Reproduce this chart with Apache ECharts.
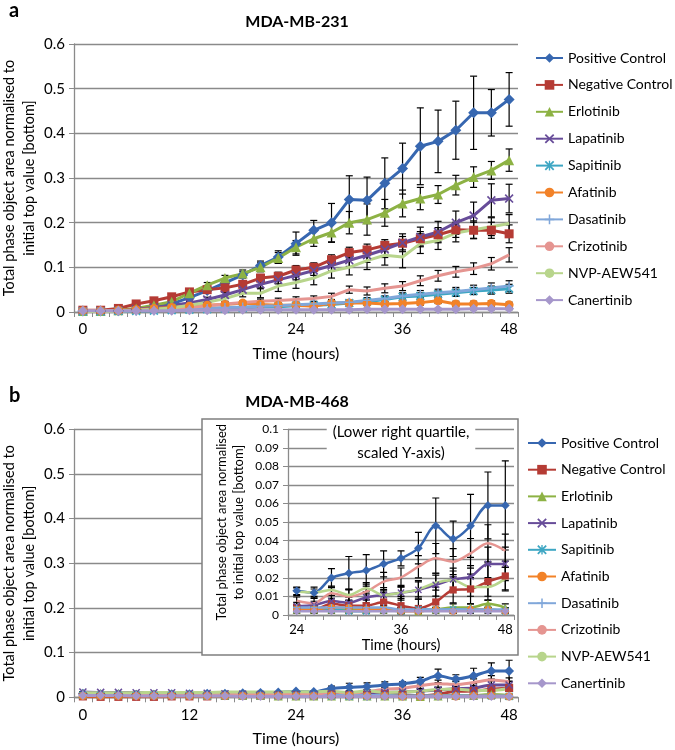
<!DOCTYPE html>
<html><head><meta charset="utf-8">
<script src="https://cdn.jsdelivr.net/npm/echarts@6/dist/echarts.min.js"></script>
<style>html,body{margin:0;padding:0;background:#fff}#c{width:675px;height:750px}</style>
</head><body><div id="c"></div>
<script>
// ---------- categories / tick labels ----------
const hours = ['0','2','4','6','8','10','12','14','16','18','20','22','24','26','28','30','32','34','36','38','40','42','44','46','48'];
const insetHours = ['24','26','28','30','32','34','36','38','40','42','44','46','48'];
const seriesNames = ['Positive Control','Negative Control','Erlotinib','Lapatinib','Sapitinib','Afatinib','Dasatinib','Crizotinib','NVP-AEW541','Canertinib'];

// ---------- panel a : MDA-MB-231 ----------
const topPositive   = [0.002,0.002,0.003,0.005,0.009,0.018,0.032,0.048,0.065,0.083,0.104,0.123,0.153,0.183,0.2,0.252,0.25,0.288,0.321,0.371,0.382,0.407,0.446,0.446,0.476];
const topNegative   = [0.004,0.004,0.008,0.018,0.025,0.034,0.045,0.05,0.054,0.062,0.076,0.08,0.094,0.1,0.117,0.133,0.139,0.149,0.154,0.164,0.173,0.184,0.183,0.183,0.175];
const topErlotinib  = [0.002,0.002,0.004,0.008,0.015,0.023,0.042,0.06,0.076,0.086,0.1,0.121,0.145,0.164,0.178,0.2,0.207,0.222,0.243,0.254,0.263,0.284,0.302,0.317,0.34];
const topLapatinib  = [0.002,0.002,0.003,0.006,0.01,0.015,0.02,0.028,0.038,0.05,0.062,0.072,0.082,0.093,0.104,0.116,0.127,0.14,0.155,0.168,0.179,0.2,0.216,0.25,0.254];
const topSapitinib  = [0.001,0.001,0.002,0.002,0.003,0.004,0.005,0.006,0.008,0.009,0.011,0.012,0.014,0.015,0.017,0.02,0.023,0.028,0.034,0.036,0.04,0.043,0.047,0.049,0.052];
const topAfatinib   = [0.003,0.003,0.004,0.005,0.008,0.01,0.013,0.015,0.017,0.02,0.017,0.015,0.015,0.013,0.02,0.02,0.02,0.018,0.019,0.021,0.025,0.018,0.018,0.019,0.016];
const topDasatinib  = [0.001,0.001,0.002,0.003,0.004,0.005,0.006,0.008,0.01,0.011,0.013,0.014,0.016,0.018,0.02,0.022,0.026,0.03,0.036,0.04,0.043,0.046,0.05,0.054,0.058];
const topCrizotinib = [0.002,0.002,0.003,0.004,0.005,0.007,0.01,0.014,0.018,0.021,0.024,0.026,0.028,0.03,0.035,0.05,0.047,0.053,0.058,0.07,0.081,0.09,0.097,0.108,0.128];
const topNvp        = [0.001,0.001,0.002,0.004,0.006,0.009,0.015,0.022,0.03,0.042,0.042,0.058,0.066,0.076,0.092,0.1,0.115,0.127,0.123,0.153,0.16,0.177,0.184,0.191,0.198];
const topCanertinib = [0.003,0.003,0.003,0.003,0.003,0.003,0.004,0.004,0.004,0.005,0.005,0.005,0.005,0.005,0.005,0.005,0.006,0.006,0.006,0.006,0.006,0.006,0.007,0.007,0.007];

const topPositiveErr   = [0.001,0.001,0.001,0.002,0.002,0.003,0.004,0.005,0.006,0.007,0.01,0.014,0.026,0.022,0.043,0.053,0.052,0.057,0.057,0.086,0.07,0.065,0.082,0.052,0.06];
const topNegativeErr   = [0.001,0.001,0.002,0.003,0.003,0.004,0.005,0.005,0.006,0.007,0.008,0.009,0.01,0.01,0.011,0.012,0.013,0.013,0.015,0.016,0.016,0.017,0.018,0.018,0.02];
const topErlotinibErr  = [0.001,0.001,0.001,0.002,0.003,0.004,0.005,0.006,0.006,0.008,0.01,0.012,0.015,0.017,0.022,0.025,0.035,0.03,0.03,0.025,0.02,0.022,0.023,0.02,0.025];
const topLapatinibErr  = [0.001,0.001,0.001,0.002,0.002,0.003,0.004,0.005,0.006,0.007,0.008,0.009,0.01,0.011,0.012,0.014,0.016,0.018,0.02,0.022,0.024,0.026,0.03,0.037,0.032];
const topSapitinibErr  = [0.001,0.001,0.001,0.001,0.001,0.002,0.002,0.002,0.002,0.003,0.003,0.003,0.004,0.004,0.004,0.005,0.005,0.006,0.006,0.007,0.007,0.008,0.008,0.009,0.01];
const topAfatinibErr   = [0.001,0.001,0.001,0.001,0.002,0.002,0.002,0.003,0.003,0.003,0.003,0.004,0.004,0.004,0.005,0.005,0.005,0.005,0.005,0.006,0.006,0.006,0.006,0.006,0.006];
const topDasatinibErr  = [0.001,0.001,0.001,0.001,0.002,0.002,0.002,0.002,0.003,0.003,0.003,0.004,0.004,0.004,0.005,0.005,0.006,0.006,0.007,0.008,0.008,0.009,0.01,0.011,0.012];
const topCrizotinibErr = [0.001,0.001,0.001,0.002,0.002,0.002,0.003,0.003,0.004,0.004,0.005,0.005,0.006,0.006,0.007,0.008,0.009,0.01,0.01,0.011,0.012,0.012,0.013,0.014,0.016];
const topNvpErr        = [0.001,0.001,0.001,0.002,0.002,0.003,0.004,0.005,0.006,0.008,0.01,0.012,0.013,0.015,0.016,0.017,0.02,0.022,0.024,0.022,0.02,0.02,0.02,0.02,0.02];
const topCanertinibErr = [0.001,0.001,0.001,0.001,0.001,0.001,0.001,0.001,0.001,0.002,0.002,0.002,0.002,0.002,0.002,0.002,0.002,0.002,0.002,0.002,0.002,0.002,0.002,0.002,0.002];

// ---------- panel b : MDA-MB-468 ----------
const botPositive   = [0.008,0.007,0.007,0.006,0.006,0.007,0.007,0.008,0.008,0.009,0.01,0.011,0.013,0.012,0.02,0.0225,0.024,0.0275,0.0305,0.036,0.048,0.041,0.048,0.059,0.059];
const botNegative   = [0.002,0.001,0.001,0.001,0.001,0.002,0.002,0.002,0.003,0.003,0.003,0.004,0.004,0.003,0.006,0.005,0.005,0.007,0.005,0.0035,0.007,0.0135,0.014,0.018,0.021];
const botErlotinib  = [0.008,0.008,0.008,0.007,0.007,0.006,0.006,0.005,0.005,0.004,0.004,0.003,0.003,0.003,0.003,0.003,0.003,0.003,0.003,0.002,0.003,0.004,0.004,0.006,0.004];
const botLapatinib  = [0.012,0.011,0.011,0.01,0.01,0.01,0.009,0.009,0.008,0.007,0.006,0.005,0.0048,0.0054,0.0075,0.0066,0.0095,0.0108,0.012,0.0135,0.0162,0.0192,0.0206,0.0275,0.0275];
const botSapitinib  = [0.004,0.004,0.004,0.004,0.004,0.004,0.004,0.003,0.003,0.003,0.003,0.003,0.003,0.003,0.003,0.002,0.002,0.003,0.002,0.003,0.003,0.003,0.003,0.003,0.002];
const botAfatinib   = [0.003,0.003,0.003,0.003,0.003,0.003,0.003,0.003,0.003,0.003,0.003,0.003,0.003,0.003,0.004,0.004,0.003,0.003,0.002,0.002,0.003,0.002,0.003,0.003,0.002];
const botDasatinib  = [0.006,0.006,0.006,0.005,0.005,0.005,0.005,0.005,0.005,0.004,0.004,0.004,0.004,0.004,0.004,0.004,0.004,0.004,0.003,0.003,0.003,0.003,0.003,0.003,0.003];
const botCrizotinib = [0.006,0.006,0.006,0.006,0.006,0.006,0.007,0.007,0.007,0.007,0.008,0.008,0.0077,0.0063,0.0117,0.0099,0.0126,0.018,0.0203,0.026,0.0305,0.0287,0.0332,0.0386,0.0346];
const botNvp        = [0.01,0.01,0.01,0.01,0.011,0.011,0.011,0.011,0.012,0.012,0.012,0.012,0.0126,0.012,0.0135,0.0108,0.0144,0.0108,0.012,0.0138,0.0174,0.0187,0.0151,0.0151,0.0196];
const botCanertinib = [0.004,0.004,0.004,0.003,0.003,0.003,0.003,0.003,0.003,0.002,0.002,0.002,0.002,0.002,0.002,0.002,0.002,0.002,0.002,0.002,0.002,0.002,0.002,0.002,0.002];

const botPositiveErr   = [0.002,0.002,0.002,0.002,0.002,0.002,0.002,0.002,0.002,0.002,0.002,0.002,0.002,0.003,0.005,0.009,0.0085,0.007,0.004,0.0085,0.015,0.0095,0.017,0.018,0.024];
const botNegativeErr   = [0.001,0.001,0.001,0.001,0.001,0.001,0.001,0.001,0.001,0.001,0.001,0.001,0.001,0.002,0.003,0.003,0.003,0.005,0.005,0.005,0.008,0.007,0.008,0.01,0.008];
const botErlotinibErr  = [0.001,0.001,0.001,0.001,0.001,0.001,0.001,0.001,0.001,0.001,0.001,0.001,0.001,0.001,0.001,0.001,0.001,0.001,0.001,0.001,0.001,0.002,0.002,0.002,0.002];
const botLapatinibErr  = [0.001,0.001,0.001,0.001,0.001,0.001,0.001,0.001,0.001,0.001,0.001,0.001,0.002,0.002,0.003,0.003,0.003,0.004,0.004,0.005,0.006,0.006,0.006,0.009,0.009];
const botSapitinibErr  = [0.001,0.001,0.001,0.001,0.001,0.001,0.001,0.001,0.001,0.001,0.001,0.001,0.001,0.001,0.001,0.001,0.001,0.001,0.001,0.001,0.001,0.001,0.001,0.001,0.001];
const botAfatinibErr   = [0.001,0.001,0.001,0.001,0.001,0.001,0.001,0.001,0.001,0.001,0.001,0.001,0.001,0.001,0.001,0.001,0.001,0.001,0.001,0.001,0.001,0.001,0.001,0.001,0.001];
const botDasatinibErr  = [0.001,0.001,0.001,0.001,0.001,0.001,0.001,0.001,0.001,0.001,0.001,0.001,0.001,0.001,0.001,0.001,0.001,0.001,0.001,0.001,0.001,0.001,0.001,0.001,0.001];
const botCrizotinibErr = [0.001,0.001,0.001,0.001,0.001,0.001,0.001,0.001,0.001,0.001,0.001,0.001,0.002,0.003,0.003,0.004,0.004,0.005,0.005,0.006,0.008,0.007,0.008,0.01,0.009];
const botNvpErr        = [0.001,0.001,0.001,0.001,0.001,0.001,0.001,0.001,0.001,0.001,0.001,0.001,0.002,0.002,0.002,0.003,0.003,0.003,0.003,0.004,0.004,0.005,0.005,0.005,0.006];
const botCanertinibErr = [0.001,0.001,0.001,0.001,0.001,0.001,0.001,0.001,0.001,0.001,0.001,0.001,0.001,0.001,0.001,0.001,0.001,0.001,0.001,0.001,0.001,0.001,0.001,0.001,0.001];

const topData = [topPositive,topNegative,topErlotinib,topLapatinib,topSapitinib,topAfatinib,topDasatinib,topCrizotinib,topNvp,topCanertinib];
const topErr  = [topPositiveErr,topNegativeErr,topErlotinibErr,topLapatinibErr,topSapitinibErr,topAfatinibErr,topDasatinibErr,topCrizotinibErr,topNvpErr,topCanertinibErr];
const botData = [botPositive,botNegative,botErlotinib,botLapatinib,botSapitinib,botAfatinib,botDasatinib,botCrizotinib,botNvp,botCanertinib];
const botErr  = [botPositiveErr,botNegativeErr,botErlotinibErr,botLapatinibErr,botSapitinibErr,botAfatinibErr,botDasatinibErr,botCrizotinibErr,botNvpErr,botCanertinibErr];
const INSET_START = 12; // inset shows 24-48 h

// ---------- styles ----------
const SYM_X = 'path://M0,1.3L1.3,0L5,3.7L8.7,0L10,1.3L6.3,5L10,8.7L8.7,10L5,6.3L1.3,10L0,8.7L3.7,5Z';
const SYM_AST = 'path://M0,1.3L1.3,0L5,3.7L8.7,0L10,1.3L6.3,5L10,8.7L8.7,10L5,6.3L1.3,10L0,8.7L3.7,5Z M4.3,0H5.7V10H4.3Z';
const SYM_PLUS = 'path://M4.2,0H5.8V4.2H10V5.8H5.8V10H4.2V5.8H0V4.2H4.2Z';
const styles = [
  {color:'#3767B0', symbol:'diamond', size:11},
  {color:'#B53B34', symbol:'rect', size:9},
  {color:'#8DB244', symbol:'triangle', size:10},
  {color:'#674C99', symbol:SYM_X, size:9},
  {color:'#3DA6C3', symbol:SYM_AST, size:9},
  {color:'#F28228', symbol:'circle', size:9},
  {color:'#80A7DA', symbol:SYM_PLUS, size:9},
  {color:'#E59591', symbol:'none', size:0},
  {color:'#B8D58C', symbol:'none', size:0},
  {color:'#A697CB', symbol:'diamond', size:10}
];
const FONT = 'Lato, "Open Sans", sans-serif';
const GRID_C = '#8a8a8a';

function errRender(params, api) {
  const i = api.value(0), v = api.value(1), e = api.value(2);
  const hi = api.coord([i, v + e]), lo = api.coord([i, v - e]);
  const w = 3.5, st = {stroke:'#000', lineWidth:1.2};
  return {type:'group', children:[
    {type:'line', shape:{x1:hi[0], y1:hi[1], x2:lo[0], y2:lo[1]}, style:st},
    {type:'line', shape:{x1:hi[0]-w, y1:hi[1], x2:hi[0]+w, y2:hi[1]}, style:st},
    {type:'line', shape:{x1:lo[0]-w, y1:lo[1], x2:lo[0]+w, y2:lo[1]}, style:st}
  ]};
}

const series = [];
function addPanel(dataSets, errSets, axisIdx, start, opt) {
  dataSets.forEach((d, k) => {
    const e = errSets[k];
    const vals = d.slice(start), errs = e.slice(start);
    series.push({type:'custom', xAxisIndex:axisIdx, yAxisIndex:axisIdx, clip:true, silent:true,
      z: opt.z - 1, renderItem: errRender, encode:{x:0, y:1},
      data: vals.map((v, i) => [i, v, errs[i]])});
  });
  dataSets.forEach((d, k) => {
    const s = styles[k];
    series.push({type:'line', name: seriesNames[k], xAxisIndex:axisIdx, yAxisIndex:axisIdx,
      data: d.slice(start), z: opt.z, smooth: opt.smooth,
      symbol: s.symbol, symbolSize: s.size * opt.scale, showSymbol: s.symbol !== 'none',
      itemStyle:{color:s.color}, lineStyle:{color:s.color, width:opt.lw},
      emphasis:{disabled:true}, clip:true});
  });
}
addPanel(topData, topErr, 0, 0, {z:3, smooth:false, scale:1, lw:3});
addPanel(botData, botErr, 1, 0, {z:3, smooth:0.3, scale:0.9, lw:3});
addPanel(botData, botErr, 2, INSET_START, {z:9, smooth:0.3, scale:0.8, lw:2.5});

function catAxis(idx, cats, fs, margin, nameGap, nameFs, z) {
  return {type:'category', gridIndex:idx, data:cats, boundaryGap:true, z:z,
    axisLine:{show:true, lineStyle:{color:GRID_C, width:1.3}},
    axisTick:{show:true, interval:0, length:5, lineStyle:{color:GRID_C}},
    axisLabel:{interval:5, fontSize:fs, color:'#000', fontFamily:FONT, margin:margin},
    splitLine:{show:false},
    name:'Time (hours)', nameLocation:'middle', nameGap:nameGap, nameMoveOverlap:false,
    nameTextStyle:{fontSize:nameFs, color:'#000', fontFamily:FONT}};
}
function valAxis(idx, max, interval, fs, name, nameGap, nameFs, lh, z) {
  return {type:'value', gridIndex:idx, min:0, max:max, interval:interval, z:z,
    axisLine:{show:true, lineStyle:{color:GRID_C, width:1.3}},
    axisTick:{show:true, length:5, lineStyle:{color:GRID_C}},
    axisLabel:{fontSize:fs, color:'#000', fontFamily:FONT, margin:9},
    splitLine:{show:true, lineStyle:{color:GRID_C, width:1.3}},
    name:name, nameLocation:'middle', nameRotate:90, nameGap:nameGap, nameMoveOverlap:false,
    nameTextStyle:{fontSize:nameFs, color:'#000', fontFamily:FONT, lineHeight:lh, align:'center'}};
}
const yName = 'Total phase object area normalised to\ninitial top value [bottom]';
const yNameInset = 'Total phase object area normalised\nto initial top value [bottom]';

const legendBase = {orient:'vertical', itemWidth:28, itemHeight:12, selectedMode:false, padding:0,
  textStyle:{fontSize:14, color:'#000', fontFamily:FONT, lineHeight:16, overflow:'none', width:130}, data:seriesNames};

const option = {
  animation:false,
  backgroundColor:'#fff',
  grid:[
    {left:74, top:44, width:444, height:268, outerBoundsMode:'none', containLabel:false},
    {left:74, top:429.3, width:444, height:268, outerBoundsMode:'none', containLabel:false},
    {left:288, top:429.3, width:226, height:185.7, outerBoundsMode:'none', containLabel:false}
  ],
  xAxis:[
    catAxis(0, hours, 15, 10, 34, 16, 0),
    catAxis(1, hours, 15, 10, 34, 16, 0),
    catAxis(2, insetHours, 13, 8, 23, 14.5, 6)
  ],
  yAxis:[
    valAxis(0, 0.6, 0.1, 15, yName, 35, 14.5, 20, 0),
    valAxis(1, 0.6, 0.1, 15, yName, 35, 14.5, 20, 0),
    valAxis(2, 0.1, 0.01, 12, yNameInset, 41, 13, 17, 6)
  ],
  legend:[
    Object.assign({}, legendBase, {left:535, top:50, itemGap:10.9, itemWidth:27, width:140}),
    Object.assign({}, legendBase, {left:527, top:435, itemGap:10.7, width:148})
  ],
  graphic:[
    {type:'text', left:9, top:1, style:{text:'a', fill:'#000', font:'bold 20px ' + FONT}},
    {type:'text', left:9, top:386, style:{text:'b', fill:'#000', font:'bold 20px ' + FONT}},
    {type:'text', x:297, y:22, style:{text:'MDA-MB-231', font:'bold 16px ' + FONT, fill:'#000', textAlign:'center', textVerticalAlign:'middle'}},
    {type:'text', x:297, y:402, style:{text:'MDA-MB-468', font:'bold 16px ' + FONT, fill:'#000', textAlign:'center', textVerticalAlign:'middle'}},
    {type:'rect', z:5, shape:{x:202, y:419, width:316, height:236}, style:{fill:'#fff', stroke:'#7f7f7f', lineWidth:1.5}},
    {type:'text', z:20, x:401, y:443, style:{text:'(Lower right quartile,\nscaled Y-axis)', font:'15px ' + FONT, lineHeight:21, fill:'#000', textAlign:'center', textVerticalAlign:'middle', backgroundColor:'#fff', padding:[1,6]}}
  ],
  series: series
};
const chart = echarts.init(document.getElementById('c'), null, {renderer:'canvas'});
chart.setOption(option);
</script>
</body></html>
